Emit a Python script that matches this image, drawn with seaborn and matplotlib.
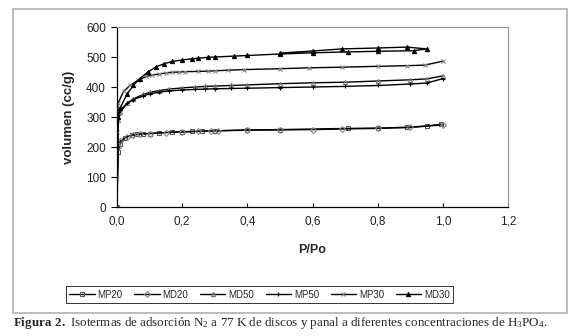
"""N2 adsorption isotherms at 77 K (discs and honeycomb, H3PO4 series)."""

import matplotlib
matplotlib.use("Agg")
import matplotlib.pyplot as plt
from matplotlib.patches import Rectangle
import pandas as pd
import seaborn as sns

# --- data (adsorption branch, then desorption back) ---
MP20_P = [0, 0.003, 0.01, 0.025, 0.045, 0.06, 0.08, 0.1, 0.13, 0.17, 0.2, 0.23, 0.26, 0.3, 0.4, 0.5, 0.71, 0.8, 0.89, 0.95, 0.995]
MP20_V = [0, 183, 210, 230, 240, 242, 244, 245, 247, 250, 251, 252, 253, 254, 257, 258, 262, 263, 266, 270, 276]

MD20_P = [0, 0.003, 0.01, 0.03, 0.05, 0.07, 0.1, 0.15, 0.2, 0.25, 0.29, 0.31, 0.4, 0.5, 0.6, 0.69, 0.8, 0.9, 1.0]
MD20_V = [0, 200, 220, 235, 240, 243, 245, 248, 250, 252, 253, 254, 256, 257, 258, 260, 262, 265, 274]

MD50_P = [0, 0.003, 0.01, 0.03, 0.05, 0.08, 0.1, 0.13, 0.16, 0.2, 0.24, 0.27, 0.3, 0.35, 0.4, 0.5, 0.6, 0.7, 0.8, 0.9, 0.95, 1.0]
MD50_V = [0, 290, 315, 345, 360, 375, 382, 388, 393, 397, 400, 402, 403, 405, 407, 411, 414, 416, 420, 424, 427, 437]

MP50_P = [0, 0.003, 0.01, 0.03, 0.05, 0.08, 0.1, 0.13, 0.16, 0.2, 0.24, 0.27, 0.3, 0.35, 0.4, 0.5, 0.6, 0.7, 0.8, 0.9, 0.95, 1.0]
MP50_V = [0, 305, 322, 345, 358, 370, 377, 383, 387, 390, 392, 393, 394, 395, 396, 398, 400, 402, 405, 410, 413, 428]

MP30_P = [0, 0.001, 0.003, 0.02, 0.04, 0.065, 0.09, 0.107, 0.13, 0.15, 0.17, 0.19, 0.21, 0.25, 0.28, 0.3, 0.34, 0.39, 0.5, 0.59, 0.69, 0.8, 0.89, 0.945, 1.0]
MP30_V = [0, 250, 345, 385, 405, 423, 435, 440, 443, 447, 449, 450, 451, 452, 453, 454, 456, 458, 461, 464, 466, 469, 471, 473, 486]

MD30_P = [0, 0.003, 0.01, 0.03, 0.05, 0.07, 0.095, 0.12, 0.145, 0.17, 0.2, 0.23, 0.25, 0.28, 0.3, 0.36, 0.4, 0.5, 0.6, 0.71, 0.8, 0.91, 0.95, 0.89, 0.8, 0.69, 0.6, 0.5]
MD30_V = [0, 300, 330, 375, 405, 428, 450, 467, 478, 485, 490, 494, 496, 499, 500, 503, 505, 510, 514, 517, 519, 521, 527, 533, 530, 527, 520, 513]

SERIES = ["MP20", "MD20", "MD50", "MP50", "MP30", "MD30"]
X_TICKS = [0.0, 0.2, 0.4, 0.6, 0.8, 1.0, 1.2]
Y_TICKS = [0, 100, 200, 300, 400, 500, 600]

data = {
    "MP20": (MP20_P, MP20_V),
    "MD20": (MD20_P, MD20_V),
    "MD50": (MD50_P, MD50_V),
    "MP50": (MP50_P, MP50_V),
    "MP30": (MP30_P, MP30_V),
    "MD30": (MD30_P, MD30_V),
}

# marker style per sample, Excel-like
styles = {
    "MP20": dict(marker="s", markersize=4, markerfacecolor="none", markeredgecolor="#555555"),
    "MD20": dict(marker="D", markersize=3, markerfacecolor="none", markeredgecolor="#888888"),
    "MD50": dict(marker="^", markersize=4, markerfacecolor="none", markeredgecolor="#777777"),
    "MP50": dict(marker="+", markersize=6, markeredgecolor="black"),
    "MP30": dict(marker="x", markersize=5, markeredgecolor="#888888"),
    "MD30": dict(marker="^", markersize=3.5, markerfacecolor="black", markeredgecolor="black"),
}

sns.set_theme(style="white")
plt.rcParams["font.family"] = ["Liberation Sans", "DejaVu Sans"]
plt.rcParams["mathtext.fontset"] = "custom"
plt.rcParams["mathtext.rm"] = "Liberation Serif"
plt.rcParams["mathtext.bf"] = "Liberation Serif:bold"
plt.rcParams["mathtext.default"] = "regular"

fig = plt.figure(figsize=(5.8, 3.36), dpi=100)
ax = fig.add_axes([117 / 580, 1 - 207 / 336, (508 - 117) / 580, (207 - 27) / 336])

for name in SERIES:
    p, v = data[name]
    df = pd.DataFrame({"P/Po": p, "volumen": v})
    sns.lineplot(
        data=df, x="P/Po", y="volumen", sort=False, estimator=None,
        color="black", linewidth=1.0, markeredgewidth=0.8, label=name, ax=ax,
        legend=False, **styles[name],
    )

ax.set_xlim(0, 1.2)
ax.set_ylim(0, 600)
ax.set_xticks(X_TICKS)
ax.set_xticklabels([f"{t:.1f}".replace(".", ",") for t in X_TICKS], fontsize=8.5, color="#222222")
ax.set_yticks(Y_TICKS)
ax.set_yticklabels([str(t) for t in Y_TICKS], fontsize=8.5, color="#222222")
ax.tick_params(axis="y", direction="out", length=4, width=0.8, color="black", pad=4, left=True)
ax.tick_params(axis="x", direction="in", length=3, width=0.8, color="black", pad=6, bottom=True)
ax.set_xlabel("P/Po", fontsize=9, fontweight="bold", labelpad=12)
ax.set_ylabel("volumen (cc/g)", fontsize=9.5, fontweight="bold", labelpad=8)

for side in ("left", "bottom"):
    ax.spines[side].set_color("black")
    ax.spines[side].set_linewidth(0.9)
for side in ("top", "right"):
    ax.spines[side].set_color("#9a9a9a")
    ax.spines[side].set_linewidth(0.9)

handles, labels = ax.get_legend_handles_labels()
for h in handles:
    h.set_markersize(3)
leg = fig.legend(
    handles, labels, loc="center", bbox_to_anchor=(259.5 / 580, 1 - 294.5 / 336),
    ncol=6, fontsize=7, frameon=True, fancybox=False, edgecolor="black",
    handlelength=2.6, handletextpad=0.3, columnspacing=1.2, borderpad=0.4,
)
leg.get_frame().set_linewidth(0.7)

# outer chart border (grey box around the Excel chart)
fig.patches.append(Rectangle((13 / 580, 1 - 313 / 336), 554 / 580, 304 / 336,
                             transform=fig.transFigure, fill=False,
                             edgecolor="#b0b0b0", linewidth=1.2))

fig.text(13 / 580, 1 - 326 / 336,
         r"$\mathbf{Figura\ 2.}$ Isotermas de adsorción N$_2$ a 77 K de discos y panal a diferentes concentraciones de H$_3$PO$_4$.",
         fontsize=9.4, family="Liberation Serif", ha="left", va="baseline")

fig.savefig("out.png", dpi=100)
